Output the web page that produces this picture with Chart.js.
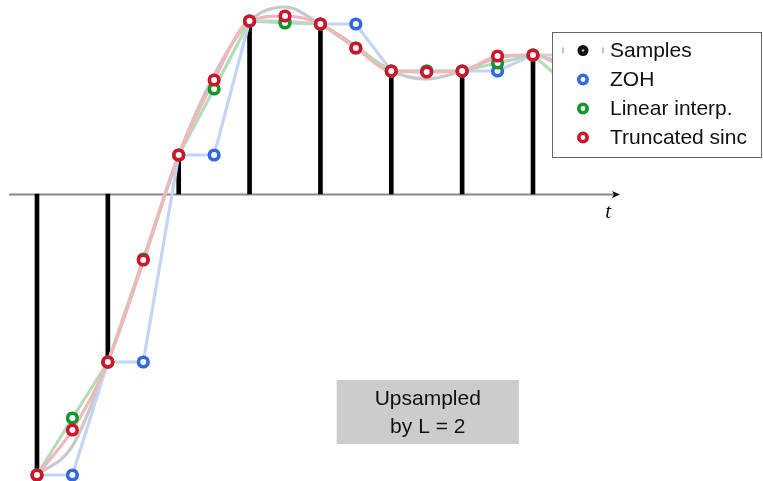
<!DOCTYPE html>
<html>
<head>
<meta charset="utf-8">
<script src="https://cdn.jsdelivr.net/npm/chart.js@4/dist/chart.umd.min.js"></script>
<style>
  html, body { margin: 0; padding: 0; background: #fff; overflow: hidden; }
  canvas { display: block; }
</style>
</head>
<body>
<canvas id="c" width="763" height="481"></canvas>
<script>
// Discrete-time samples x[n]
const sampleN = [0, 1, 2, 3, 4, 5, 6, 7];
const samples = [-2.81, -1.68, 0.39, 1.73, 1.70, 1.23, 1.23, 1.39];

// Upsampled grid (L = 2)
const upN = [0, 0.5, 1, 1.5, 2, 2.5, 3, 3.5, 4, 4.5, 5, 5.5, 6, 6.5, 7, 7.5];
const zohValues    = [-2.81, -2.81, -1.68, -1.68, 0.39, 0.39, 1.73, 1.73, 1.70, 1.70, 1.23, 1.23, 1.23, 1.23, 1.39, 1.39];
const linearValues = [-2.81, -2.24, -1.68, -0.65, 0.39, 1.05, 1.73, 1.71, 1.70, 1.46, 1.23, 1.23, 1.23, 1.31, 1.39, 1.08];
const sincValues   = [-2.81, -2.36, -1.68, -0.66, 0.39, 1.14, 1.73, 1.78, 1.70, 1.46, 1.23, 1.22, 1.23, 1.38, 1.39, 1.28];

// Underlying continuous-time signal
const signalN = [0, 0.5, 1, 1.5, 2, 2.5, 3, 3.5, 4, 4.5, 5, 5.5, 6, 6.5, 7, 7.5];
const signalValues = [-2.81, -2.52, -1.68, -0.68, 0.39, 1.19, 1.73, 1.87, 1.70, 1.48, 1.23, 1.15, 1.23, 1.36, 1.39, 1.24];

const legendLabels = ['Samples', 'ZOH', 'Linear interp.', 'Truncated sinc'];
const noteLines = ['Upsampled', 'by L = 2'];
const axisLabel = 't';

const C = {
  stem: '#000000',
  signal: '#c8c8c8',
  zohLine: '#c4d4f6', zoh: '#3268e0',
  linLine: '#b4dcb6', lin: '#11962a',
  sincLine: '#f0b6ba', sinc: '#d0142c',
  axis: '#8a8a8a'
};

const xy = (xs, ys) => xs.map((x, i) => ({ x, y: ys[i] }));

function lineSet(data, color, order, mode) {
  return {
    type: 'line', data, borderColor: color, borderWidth: 3.2,
    pointRadius: 0, fill: false, order,
    tension: mode ? 0.4 : 0, cubicInterpolationMode: mode || 'default'
  };
}
function markerSet(data, color, order) {
  return {
    type: 'line', data, showLine: false, order,
    pointRadius: 4.8, pointBorderWidth: 3.6,
    pointBorderColor: color, pointBackgroundColor: '#ffffff'
  };
}

const F = '"Liberation Sans", Arial, sans-serif';

// time axis with arrow and label
const axisPlugin = {
  id: 'timeAxis',
  beforeDatasetsDraw(chart) {
    const { ctx, scales: { x, y } } = chart;
    const y0 = Math.round(y.getPixelForValue(0)) + 0.5;
    const xa = x.getPixelForValue(-0.395), xb = x.getPixelForValue(8.213);
    ctx.save();
    ctx.strokeStyle = C.axis; ctx.lineWidth = 2;
    ctx.beginPath(); ctx.moveTo(xa, y0); ctx.lineTo(xb - 4, y0); ctx.stroke();
    ctx.fillStyle = '#111';
    ctx.beginPath();
    ctx.moveTo(xb + 1, y0);
    ctx.lineTo(xb - 7, y0 - 3.5);
    ctx.lineTo(xb - 5, y0);
    ctx.lineTo(xb - 7, y0 + 3.5);
    ctx.closePath(); ctx.fill();
    ctx.font = 'italic 21px "Liberation Serif", "DejaVu Serif", serif';
    ctx.textAlign = 'center'; ctx.textBaseline = 'middle';
    ctx.fillText(axisLabel, x.getPixelForValue(8.06), y.getPixelForValue(-0.18));
    ctx.restore();
  }
};

// note box and legend
const overlayPlugin = {
  id: 'overlay',
  afterDraw(chart) {
    const { ctx, scales: { x, y } } = chart;
    ctx.save();
    // note box
    const bx0 = x.getPixelForValue(4.23), bx1 = x.getPixelForValue(6.80);
    const by0 = y.getPixelForValue(-1.86), by1 = y.getPixelForValue(-2.50);
    ctx.fillStyle = '#cccccc';
    ctx.fillRect(bx0, by0, bx1 - bx0, by1 - by0);
    ctx.fillStyle = '#111';
    ctx.font = '21px ' + F;
    ctx.textAlign = 'center'; ctx.textBaseline = 'middle';
    const cx = (bx0 + bx1) / 2;
    ctx.fillText(noteLines[0], cx, by0 + 19);
    ctx.fillText(noteLines[1], cx, by0 + 47);

    // legend
    const lx = 552.5, ly = 32.5;
    const lw = 209, lh = 125;
    ctx.fillStyle = '#ffffff';
    ctx.fillRect(lx, ly, lw, lh);
    ctx.strokeStyle = '#666666'; ctx.lineWidth = 1;
    ctx.strokeRect(lx, ly, lw, lh);
    const mx = lx + 30.5, tx = lx + 57.5;
    const colors = [C.stem, C.zoh, C.lin, C.sinc];
    legendLabels.forEach((label, i) => {
      const ry = ly + 18 + i * 29;
      if (i === 0) {
        ctx.strokeStyle = '#888'; ctx.lineWidth = 1;
        ctx.beginPath();
        ctx.moveTo(lx + 10.5, ry - 3); ctx.lineTo(lx + 10.5, ry + 3);
        ctx.moveTo(lx + 50.5, ry - 3); ctx.lineTo(lx + 50.5, ry + 3);
        ctx.stroke();
        ctx.fillStyle = '#111';
        ctx.beginPath(); ctx.arc(mx, ry, 5.5, 0, Math.PI * 2); ctx.fill();
        ctx.fillStyle = '#bbb';
        ctx.beginPath(); ctx.arc(mx, ry, 1.3, 0, Math.PI * 2); ctx.fill();
      } else {
        ctx.strokeStyle = colors[i]; ctx.lineWidth = 3.6;
        ctx.fillStyle = '#fff';
        ctx.beginPath(); ctx.arc(mx, ry, 4.2, 0, Math.PI * 2); ctx.fill(); ctx.stroke();
      }
      ctx.fillStyle = '#111';
      ctx.font = '21px ' + F;
      ctx.textAlign = 'left'; ctx.textBaseline = 'middle';
      ctx.fillText(label, tx, ry + 1);
    });
    ctx.restore();
  }
};

new Chart(document.getElementById('c'), {
  type: 'line',
  data: {
    datasets: [
      { type: 'bar', data: xy(sampleN, samples), backgroundColor: C.stem,
        barThickness: 4, order: 20 },
      lineSet(xy(signalN, signalValues), C.signal, 19, 'monotone'),
      lineSet(xy(upN, zohValues), C.zohLine, 18),
      lineSet(xy(upN, linearValues), C.linLine, 17),
      lineSet(xy(upN, sincValues), C.sincLine, 16, 'monotone'),
      markerSet(xy(upN, zohValues), C.zoh, 5),
      markerSet(xy(upN, linearValues), C.lin, 4),
      markerSet(xy(upN, sincValues), C.sinc, 3)
    ]
  },
  options: {
    responsive: false,
    animation: false,
    devicePixelRatio: 1,
    layout: { padding: 0, autoPadding: false },
    plugins: { legend: { display: false }, tooltip: { enabled: false } },
    scales: {
      x: { type: 'linear', min: -0.522, max: 10.246, offset: false, display: false },
      y: { type: 'linear', min: -2.87, max: 1.94, display: false }
    }
  },
  plugins: [axisPlugin, overlayPlugin]
});
</script>
</body>
</html>
